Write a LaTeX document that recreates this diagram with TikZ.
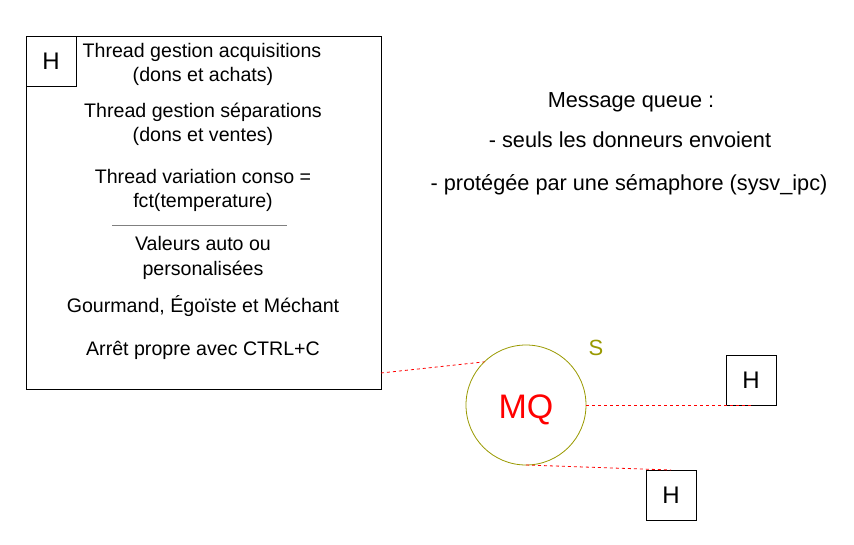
\documentclass[tikz,border=0pt]{standalone}
\usepackage{fontspec}
\setmainfont{Liberation Sans}
\definecolor{olivec}{HTML}{999900}
\definecolor{sepgray}{HTML}{808080}
\begin{document}
\begin{tikzpicture}[x=1pt,y=-1pt,
  box/.style={draw=black,line width=1pt,inner sep=0pt,outer sep=0pt},
  ltxt/.style={anchor=base,inner sep=0pt,font=\fontsize{19.6}{23}\selectfont},
  rtxt/.style={anchor=base,inner sep=0pt,font=\fontsize{21.7}{26}\selectfont},
  hlbl/.style={draw=black,line width=1pt,minimum width=50pt,minimum height=50pt,inner sep=0pt,outer sep=0pt,font=\fontsize{24}{28}\selectfont},
  conn/.style={draw=red,line width=0.8pt,dash pattern=on 3pt off 3pt}]
\useasboundingbox (0,0) rectangle (854,544);
% big box
\node[box,minimum width=355pt,minimum height=353pt,anchor=north west] (big) at (26,36) {};
\node[hlbl,anchor=north west] (h0) at (26,36) {H};
% texts in big box
\node[ltxt] (t1) at (202,57) {Thread gestion acquisitions};
\node[ltxt] (t2) at (203,81) {(dons et achats)};
\node[ltxt] (t3) at (203,117) {Thread gestion séparations};
\node[ltxt] (t4) at (203,141) {(dons et ventes)};
\node[ltxt] (t5) at (203,183) {Thread variation conso =};
\node[ltxt] (t6) at (203,207) {fct(temperature)};
\coordinate (s1) at (112,225);
\coordinate (s2) at (287,225);
\draw[sepgray,line width=0.8pt] (s1) -- (s2);
\node[ltxt] (t7) at (203,250) {Valeurs auto ou};
\node[ltxt] (t8) at (203,275) {personalisées};
\node[ltxt] (t9) at (203,312) {Gourmand, Égoïste et Méchant};
\node[ltxt] (t10) at (203,355) {Arrêt propre avec CTRL+C};
% right texts
\node[rtxt] (r1) at (631,107) {Message queue :};
\node[rtxt] (r2) at (630,147) {- seuls les donneurs envoient};
\node[rtxt] (r3) at (629,190) {- protégée par une sémaphore (sysv\_ipc)};
% MQ circle
\node[circle,draw=olivec,line width=0.8pt,minimum size=120pt,inner sep=0pt,outer sep=0pt] (mq) at (526,405) {};
\node[text=red,inner sep=0pt,font=\fontsize{34}{40}\selectfont] (mqt) at ([yshift=-5pt]mq.center) {MQ};
\node[text=olivec,inner sep=0pt,font=\fontsize{22}{26}\selectfont] (s) at (596,348) {S};
% H boxes
\node[hlbl] (h1) at (751,380) {H};
\node[hlbl] (h2) at (671,495) {H};
% connectors
\draw[conn] ([yshift=16pt]big.south east) -- (mq.134);
\draw[conn] (mq.east) -- (h1.south);
\draw[conn] (mq.south) -- (h2.north);
\end{tikzpicture}
\end{document}
